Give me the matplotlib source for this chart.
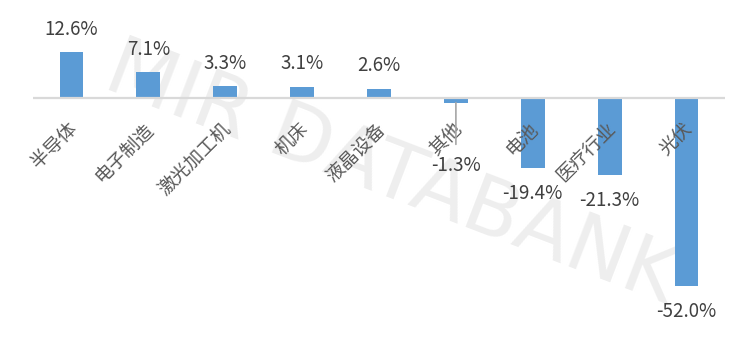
import matplotlib
matplotlib.use("Agg")
import matplotlib.pyplot as plt

plt.rcParams['font.family'] = ['Noto Sans CJK SC', 'DejaVu Sans']

categories = ["半导体", "电子制造", "激光加工机", "机床", "液晶设备", "其他", "电池", "医疗行业", "光伏"]
values = [12.6, 7.1, 3.3, 3.1, 2.6, -1.3, -19.4, -21.3, -52.0]
value_labels = ["12.6%", "7.1%", "3.3%", "3.1%", "2.6%", "-1.3%", "-19.4%", "-21.3%", "-52.0%"]

fig = plt.figure(figsize=(7.56, 3.44), dpi=100)
ax = fig.add_axes([0, 0, 1, 1])
ax.set_xlim(-0.929, 8.903)
ax.set_ylim(-67.96, 27.07)
ax.axis('off')

# watermark (behind the bars)
ax.text(0.518, 0.49, "MIR DATABANK", fontsize=58, color="#EEEEEE",
        family="DejaVu Sans", rotation=-21, ha="center", va="center",
        rotation_mode="anchor", transform=ax.transAxes, zorder=0)

x = list(range(len(categories)))
ax.bar(x, values, width=0.31, color="#5B9BD5", zorder=2)
ax.hlines(0, -0.5, len(categories) - 0.5, color="#D9D9D9", linewidth=1.6, zorder=3)

for i, (v, lab, cat) in enumerate(zip(values, value_labels, categories)):
    # category labels
    ax.annotate(cat, xy=(i, 0), xytext=(2, -20), textcoords="offset points",
                rotation=45, rotation_mode="anchor", ha="right", va="center",
                fontsize=13.5, color="#595959", zorder=4)
    if v >= 0:
        ax.annotate(lab, xy=(i, v), xytext=(0, 16.5), textcoords="offset points",
                    ha="center", va="center", fontsize=13.5, color="#404040", zorder=4)
    elif abs(v) < 5:
        # label moved down with leader line
        ax.annotate(lab, xy=(i, v), xytext=(0, -45.5), textcoords="offset points",
                    ha="center", va="center", fontsize=13.5, color="#404040", zorder=4)
        ax.annotate("", xy=(i, v), xytext=(0, -30), textcoords="offset points",
                    arrowprops=dict(arrowstyle="-", color="#A6A6A6", lw=1.2,
                                    shrinkA=0, shrinkB=0), zorder=4)
    else:
        ax.annotate(lab, xy=(i, v), xytext=(0, -18.5), textcoords="offset points",
                    ha="center", va="center", fontsize=13.5, color="#404040", zorder=4)

fig.savefig("out.png", dpi=100)
